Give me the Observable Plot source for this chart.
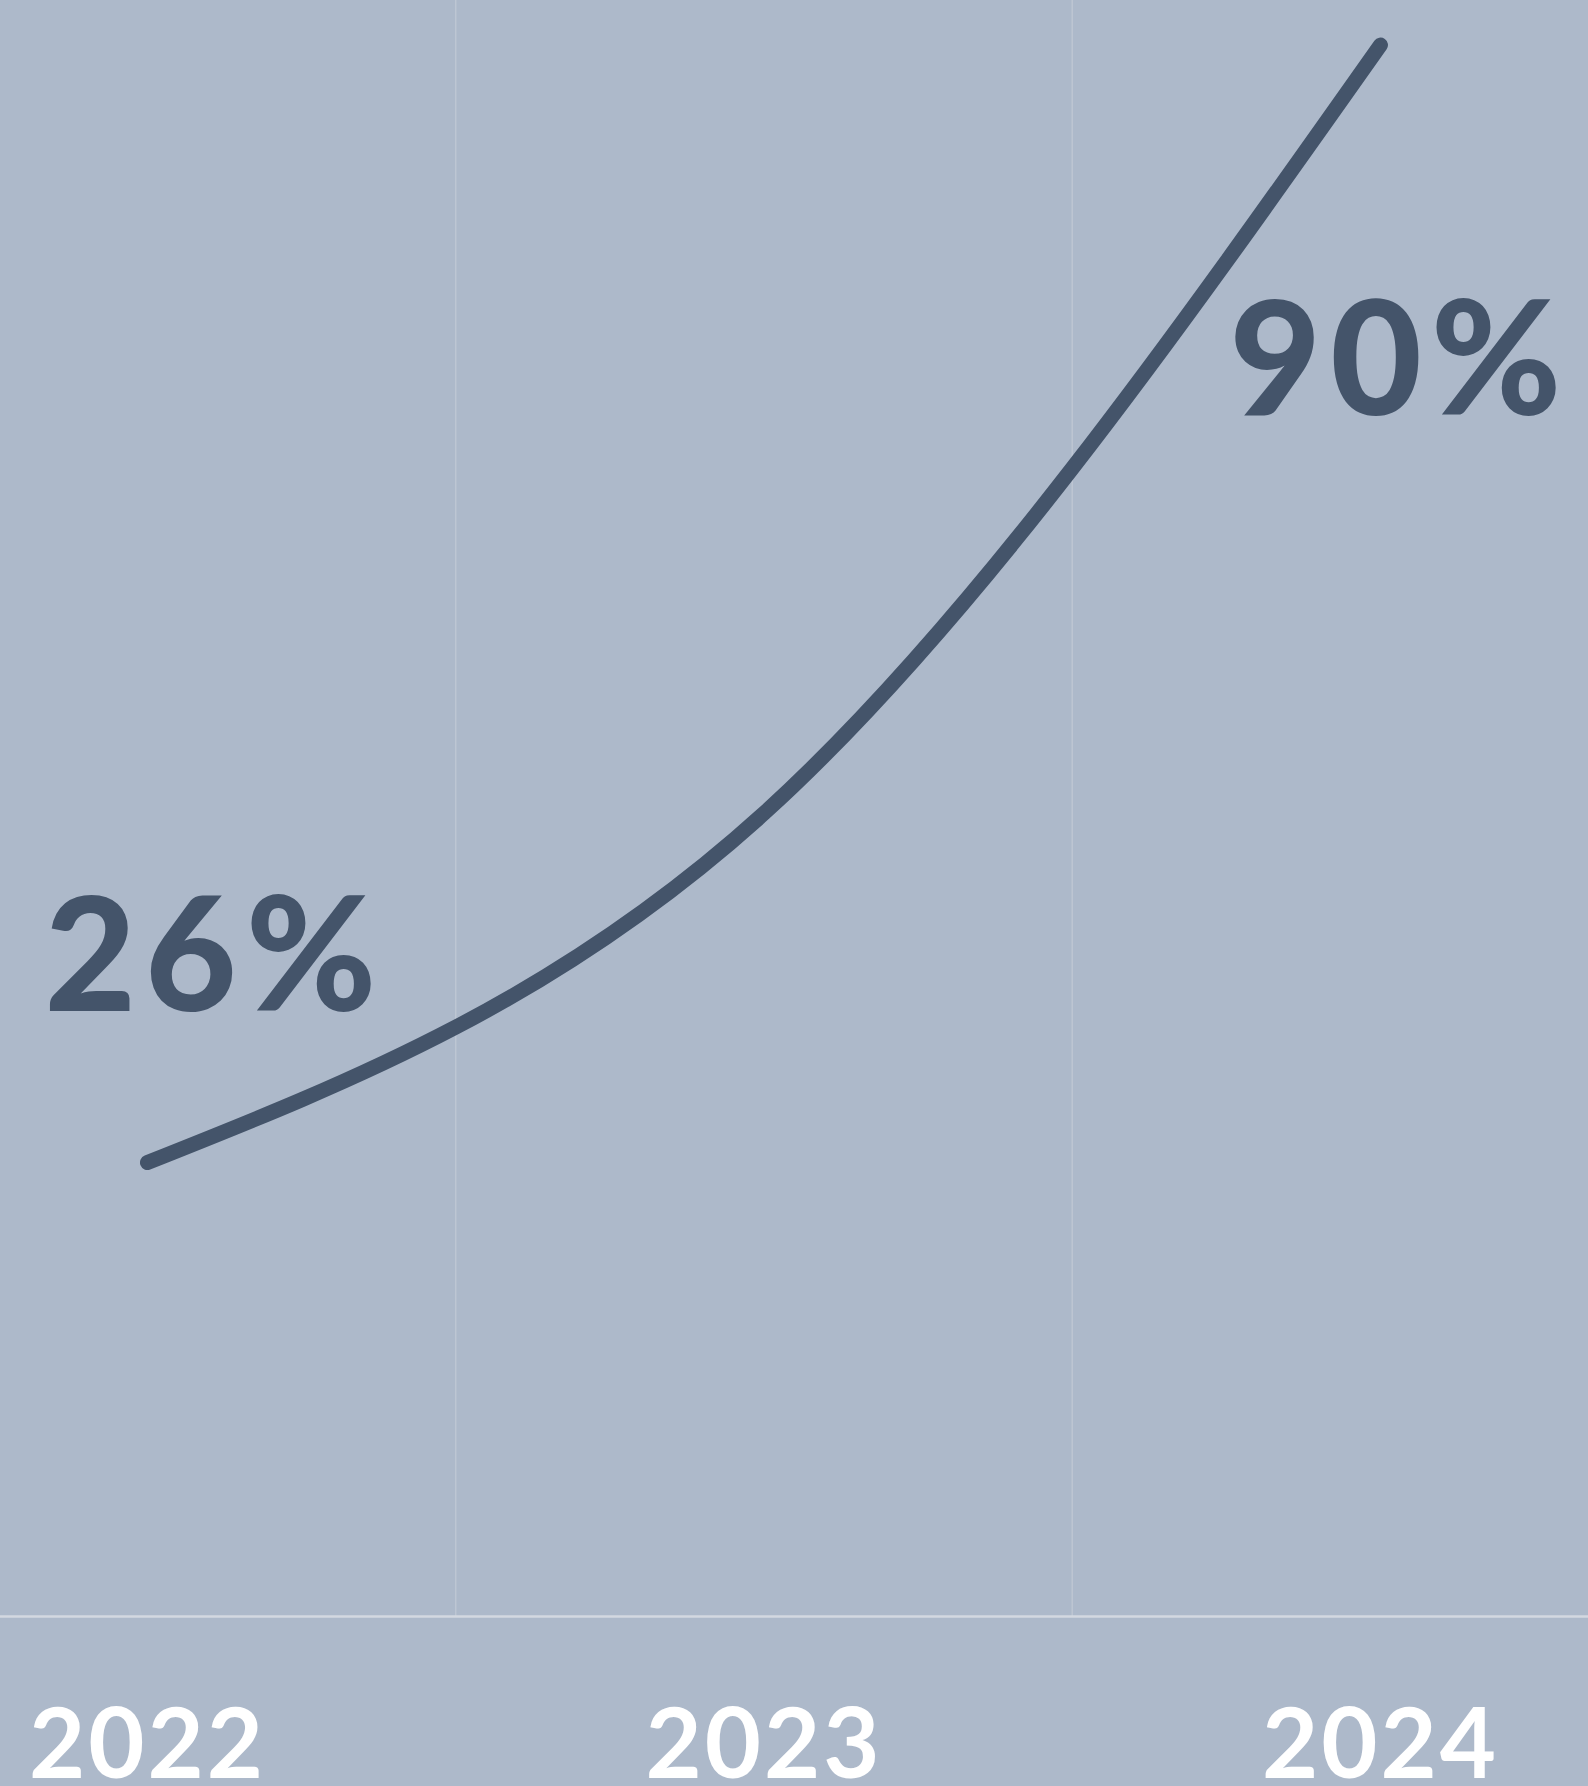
<!DOCTYPE html>
<html><head><meta charset="utf-8">
<script src="https://cdn.jsdelivr.net/npm/d3@7"></script>
<script src="https://cdn.jsdelivr.net/npm/@observablehq/plot@0.6"></script>
<style>
html,body{margin:0;padding:0;background:#ADB9CA;overflow:hidden}
#chart svg{display:block}
</style></head><body><div id="chart"></div>
<script>
const years = [2022, 2023, 2024];
const values = [26, 46, 90];
const tickLabels = ["2022", "2023", "2024"];
const bandEdges = [2022.5, 2023.5];

const data = years.map((year, i) => ({year, value: values[i], label: values[i] + "%"}));

const chart = Plot.plot({
  width: 1588, height: 1786,
  marginTop: 0, marginRight: 0, marginBottom: 170, marginLeft: 0,
  style: {background: "#ADB9CA", fontFamily: "Lato, sans-serif", overflow: "visible"},
  x: {domain: [2021.7616, 2024.3374]},
  y: {domain: [0, 92.55], axis: null},
  marks: [
    Plot.ruleX(bandEdges, {stroke: "#BDC6D3", strokeWidth: 1.5}),
    Plot.ruleY([0], {stroke: "#D3D8E0", strokeWidth: 2.5}),
    Plot.axisX(years, {
      tickSize: 0, tickPadding: 93, fontSize: 97, fontWeight: 700,
      color: "white", label: null,
      tickFormat: d => tickLabels[years.indexOf(d)]
    }),
    Plot.line(data, {x: "year", y: "value", stroke: "#44546A", strokeWidth: 15,
      curve: "natural", strokeLinecap: "round", strokeLinejoin: "round"}),
    Plot.text(data.slice(0, 1), {x: "year", y: "value", text: "label",
      textAnchor: "start", lineAnchor: "bottom", dx: -103, dy: -152,
      fontSize: 158, fontWeight: 900, fill: "#44546A"}),
    Plot.text(data.slice(-1), {x: "year", y: "value", text: "label",
      textAnchor: "start", lineAnchor: "bottom", dx: -151, dy: 370,
      fontSize: 158, fontWeight: 900, fill: "#44546A"})
  ]
});
chart.querySelectorAll("g[aria-label='x-axis tick label'] text").forEach(t => t.setAttribute("letter-spacing", "3"));
chart.querySelectorAll("g[aria-label='text'] text").forEach(t => t.setAttribute("letter-spacing", "9"));
document.getElementById("chart").appendChild(chart);
</script></body></html>
